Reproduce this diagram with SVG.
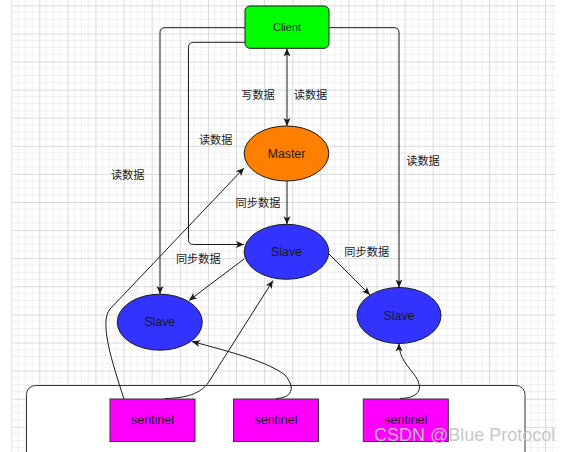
<svg xmlns="http://www.w3.org/2000/svg" width="570" height="452" viewBox="0 0 570 452">
<style>
.lbl{font-family:"Liberation Sans","Noto Sans CJK SC",sans-serif;font-size:11.2px;fill:#1a1a1a;text-anchor:middle;dominant-baseline:central}
.nt{font-family:"Liberation Sans","Noto Sans CJK SC",sans-serif;font-size:12.3px;fill:#1a1a1a;text-anchor:middle;dominant-baseline:central}
.ell{stroke:#1a1a1a;stroke-width:1}
.slave{fill:#3333ff}
.sent{fill:#ff00ff;stroke:#333;stroke-width:1}
.conn path{fill:none;stroke:#1a1a1a;stroke-width:1}
.arr{marker-end:url(#ah)}
</style>
<defs>
<pattern id="grid" patternUnits="userSpaceOnUse" x="11.2" y="5.3" width="28.1" height="28.1">
<path d="M7.025 0V28.1M14.05 0V28.1M21.075 0V28.1M0 7.025H28.1M0 14.05H28.1M0 21.075H28.1" stroke="#eeeeee" stroke-width="1" fill="none"/>
<path d="M0.5 0V28.1M0 0.5H28.1" stroke="#d9d9d9" stroke-width="1" fill="none"/>
</pattern>
<marker id="ah" markerUnits="userSpaceOnUse" markerWidth="9" markerHeight="8" refX="8" refY="3.5" orient="auto-start-reverse" viewBox="0 0 9 7">
<path d="M0,0 L8,3.5 L0,7 L2,3.5 Z" fill="#1a1a1a"/>
</marker>
</defs>
<rect width="570" height="452" fill="#fff"/>
<rect x="11.2" y="0" width="545.5" height="452" fill="url(#grid)"/>

<g id="container">
<rect x="26.5" y="385.5" width="498.5" height="80" rx="9" fill="#fff" stroke="#333" stroke-width="1"/>
</g>

<g class="conn" id="connectors">
<path d="M287 48.5V126" marker-start="url(#ah)" marker-end="url(#ah)"/>
<path class="arr" d="M245 27.7H165Q160 27.7 160 32.7V294"/>
<path class="arr" d="M245 42.3H193.5Q188.5 42.3 188.5 47.3V239.5Q188.5 244.5 193.5 244.5H244"/>
<path class="arr" d="M329 27.7H394Q399 27.7 399 32.7V287.5"/>
<path class="arr" d="M287 181V224.3"/>
<path class="arr" d="M244 259L189 300.5"/>
<path class="arr" d="M328.5 253.5L370 295"/>
<path class="arr" d="M124 399C112 362 99 322 110 309L244 168"/>
<path class="arr" d="M165 398.5C190 398 203 392 210 380L273 280.5"/>
<path class="arr" d="M276 398.5C292 398 296 388 285 375C268 362 235 353 192 341.5"/>
<path class="arr" d="M400 398.5C418 398 424 390 416 377C408 366 399 358 399 343.5"/>
</g>

<g id="labels">
<text class="lbl" x="258" y="95">写数据</text>
<text class="lbl" x="310.5" y="95">读数据</text>
<text class="lbl" x="215.7" y="140">读数据</text>
<text class="lbl" x="127.7" y="175">读数据</text>
<text class="lbl" x="423" y="161">读数据</text>
<text class="lbl" x="258" y="202.5">同步数据</text>
<text class="lbl" x="198.3" y="259.3">同步数据</text>
<text class="lbl" x="366.7" y="251.7">同步数据</text>
</g>

<g id="client">
<rect x="245" y="6" width="84" height="42.3" rx="5" fill="#00ff00" stroke="#1a1a1a" stroke-width="1"/>
<text class="nt" x="287" y="27.3" style="font-size:11px">Client</text>
</g>
<g id="master">
<ellipse class="ell" cx="286.5" cy="153.5" rx="42.3" ry="27.5" fill="#ff8000"/>
<text class="nt" x="286.5" y="153.5">Master</text>
</g>
<g id="slave-center">
<ellipse class="ell slave" cx="286.5" cy="251.8" rx="42.3" ry="27.5"/>
<text class="nt" x="286.5" y="251.8">Slave</text>
</g>
<g id="slave-left">
<ellipse class="ell slave" cx="159.8" cy="322.2" rx="42.5" ry="28"/>
<text class="nt" x="159.8" y="322.2">Slave</text>
</g>
<g id="slave-right">
<ellipse class="ell slave" cx="399" cy="315.5" rx="42" ry="28"/>
<text class="nt" x="399" y="315.5">Slave</text>
</g>
<g id="sentinel-1">
<rect class="sent" x="110" y="399" width="85" height="42.5"/>
<text class="nt" x="152.5" y="420.3" style="font-size:12.5px">sentinel</text>
</g>
<g id="sentinel-2">
<rect class="sent" x="233.5" y="399" width="85" height="42.5"/>
<text class="nt" x="276" y="420.3" style="font-size:12.5px">sentinel</text>
</g>
<g id="sentinel-3">
<rect class="sent" x="363.3" y="399" width="85" height="42.5"/>
<text class="nt" x="405.8" y="420.3" style="font-size:12.5px">sentinel</text>
</g>
<text x="374" y="441" font-family="'Liberation Sans',sans-serif" font-size="18" fill="#c4c4c4" fill-opacity="0.95">CSDN @Blue Protocol</text>
</svg>
